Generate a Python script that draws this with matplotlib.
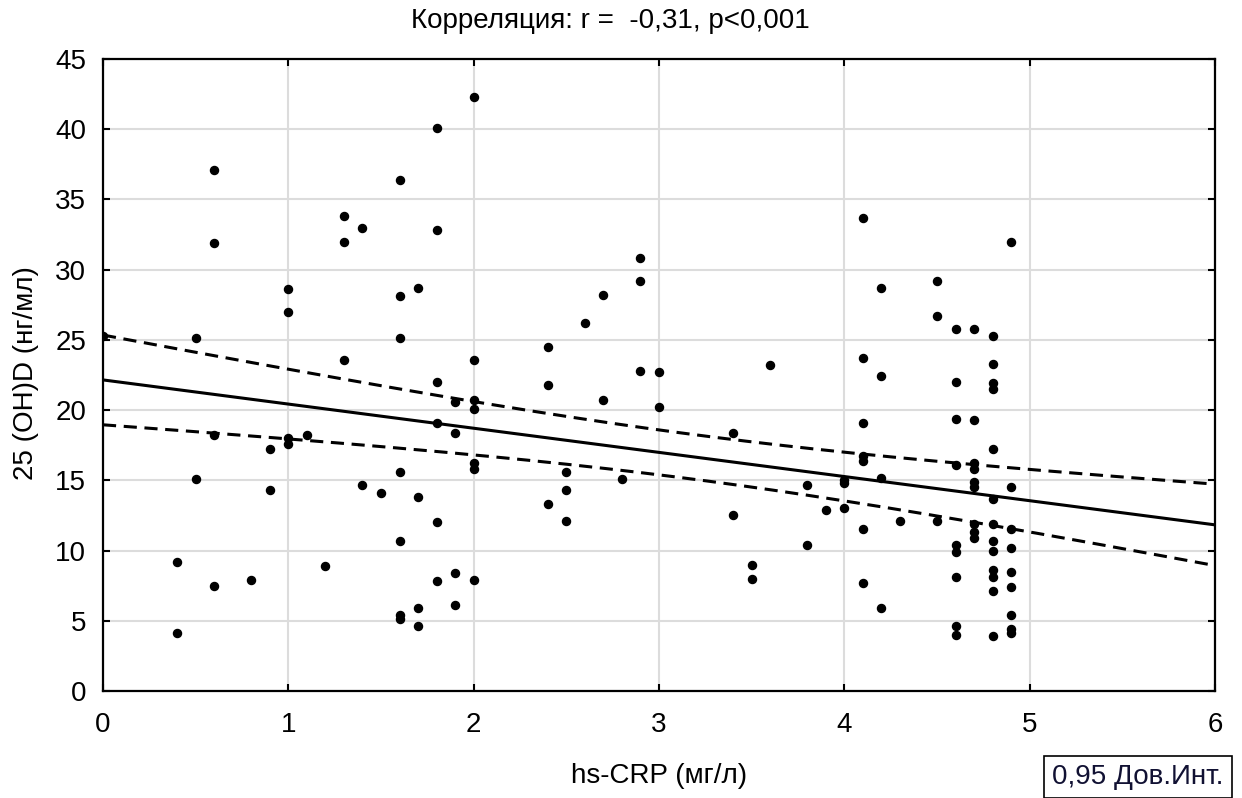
import numpy as np
import matplotlib.pyplot as plt

plt.rcParams['font.family'] = ['Liberation Sans', 'DejaVu Sans']

# hs-CRP (мг/л) и 25(OH)D (нг/мл), по одной точке на пациента
crp = [0.0,
       0.4, 0.4,
       0.5, 0.5,
       0.6, 0.6, 0.6, 0.6,
       0.8,
       0.9, 0.9,
       1.0, 1.0, 1.0, 1.0,
       1.1,
       1.2,
       1.3, 1.3, 1.3,
       1.4, 1.4,
       1.5,
       1.6, 1.6, 1.6, 1.6, 1.6, 1.6, 1.6,
       1.7, 1.7, 1.7, 1.7,
       1.8, 1.8, 1.8, 1.8, 1.8, 1.8,
       1.9, 1.9, 1.9, 1.9,
       2.0, 2.0, 2.0, 2.0, 2.0, 2.0, 2.0,
       2.4, 2.4, 2.4,
       2.5, 2.5, 2.5,
       2.6,
       2.7, 2.7,
       2.8,
       2.9, 2.9, 2.9,
       3.0, 3.0,
       3.4, 3.4,
       3.5, 3.5,
       3.6,
       3.8, 3.8,
       3.9,
       4.0, 4.0, 4.0,
       4.1, 4.1, 4.1, 4.1, 4.1, 4.1, 4.1,
       4.2, 4.2, 4.2, 4.2,
       4.3,
       4.5, 4.5, 4.5,
       4.6, 4.6, 4.6, 4.6, 4.6, 4.6, 4.6, 4.6, 4.6,
       4.7, 4.7, 4.7, 4.7, 4.7, 4.7, 4.7, 4.7, 4.7,
       4.8, 4.8, 4.8, 4.8, 4.8, 4.8, 4.8, 4.8, 4.8, 4.8, 4.8, 4.8, 4.8,
       4.9, 4.9, 4.9, 4.9, 4.9, 4.9, 4.9, 4.9, 4.9]
vitd = [25.3,
        9.2, 4.1,
        25.1, 15.1,
        37.1, 31.9, 18.2, 7.5,
        7.9,
        17.2, 14.3,
        28.6, 27.0, 18.0, 17.6,
        18.2,
        8.9,
        33.8, 32.0, 23.6,
        33.0, 14.7,
        14.1,
        36.4, 28.1, 25.1, 15.6, 10.7, 5.4, 5.1,
        28.7, 13.8, 5.9, 4.6,
        40.1, 32.8, 22.0, 19.1, 12.0, 7.8,
        20.6, 18.4, 8.4, 6.1,
        42.3, 23.6, 20.7, 20.1, 16.2, 15.8, 7.9,
        24.5, 21.8, 13.3,
        15.6, 14.3, 12.1,
        26.2,
        28.2, 20.7,
        15.1,
        30.8, 29.2, 22.8,
        22.7, 20.2,
        18.4, 12.5,
        9.0, 8.0,
        23.2,
        14.7, 10.4,
        12.9,
        15.0, 14.8, 13.0,
        33.7, 23.7, 19.1, 16.7, 16.4, 11.5, 7.7,
        28.7, 22.4, 15.2, 5.9,
        12.1,
        29.2, 26.7, 12.1,
        25.8, 22.0, 19.4, 16.1, 10.4, 9.9, 8.1, 4.6, 4.0,
        25.8, 19.3, 16.2, 15.8, 14.9, 14.5, 11.9, 11.3, 10.9,
        25.3, 23.3, 21.9, 21.5, 17.2, 13.7, 11.9, 10.7, 10.0, 8.6, 8.1, 7.1, 3.9,
        32.0, 14.5, 11.5, 10.2, 8.5, 7.4, 5.4, 4.4, 4.1]

# параметры регрессии из отчёта (полная выборка)
fit_intercept = 22.15
fit_slope = -1.72
# полуширина 95% ДИ: минимум ci_min в точке ci_center, рост ci_curv
ci_min = 1.59
ci_center = 3.2
ci_curv = 0.75

x_ticks = [0, 1, 2, 3, 4, 5, 6]
y_ticks = [0, 5, 10, 15, 20, 25, 30, 35, 40, 45]

xx = np.linspace(0, 6, 200)
yy = fit_intercept + fit_slope * xx
half = np.sqrt(ci_min ** 2 + ci_curv * (xx - ci_center) ** 2)

fig = plt.figure(figsize=(12.42, 7.98), dpi=100)
ax = fig.add_axes([103 / 1242, 107 / 798, 1112 / 1242, 632 / 798])

ax.grid(True, color='#dcdcdc', lw=1.5, zorder=0)
ax.plot(crp, vitd, 'o', color='black', ms=5.8, zorder=3)
ax.plot(xx, yy, color='black', lw=2.2, zorder=4)
ax.plot(xx, yy + half, color='black', lw=2.2, ls=(0, (4.3, 2.5)), zorder=4)
ax.plot(xx, yy - half, color='black', lw=2.2, ls=(0, (4.3, 2.5)), zorder=4)

ax.set_xlim(0, 6)
ax.set_ylim(0, 45)
ax.set_xticks(x_ticks)
ax.set_yticks(y_ticks)
ax.tick_params(direction='in', length=5, width=1.5, labelsize=20,
               top=True, right=True)
ax.tick_params(axis='x', pad=15)
ax.tick_params(axis='y', pad=12)
for sp in ax.spines.values():
    sp.set_linewidth(1.6)

ax.set_xlabel('hs-CRP (мг/л)', fontsize=20, va='center')
ax.xaxis.set_label_coords(0.5, -0.134)
ax.set_ylabel('25 (OH)D (нг/мл)', fontsize=20, va='center')
ax.yaxis.set_label_coords(-0.069, 0.503)

fig.text(610 / 1242, 1 - 21 / 798, 'Корреляция: r =  -0,31, p<0,001',
         ha='center', va='center', fontsize=20)
fig.text(1138 / 1242, 1 - 777 / 798, '0,95 Дов.Инт.', ha='center', va='center',
         fontsize=20, color='#111133',
         bbox=dict(boxstyle='square,pad=0.3', fc='white', ec='black', lw=1.2))

fig.savefig('out.png', dpi=100)
